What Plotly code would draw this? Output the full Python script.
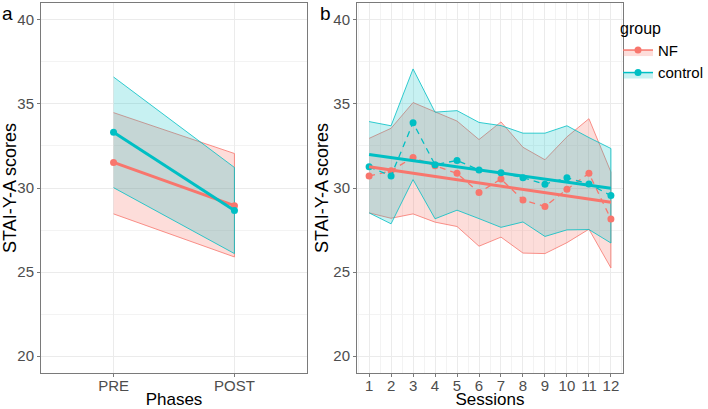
import plotly.graph_objects as go

# panel a: phases
phases = ["PRE", "POST"]
a_nf_mean = [31.52, 28.95]
a_nf_lo = [28.46, 25.90]
a_nf_hi = [34.48, 32.05]
a_ctrl_mean = [33.31, 28.66]
a_ctrl_lo = [30.02, 26.10]
a_ctrl_hi = [36.60, 31.22]

# panel b: sessions
sessions = [1, 2, 3, 4, 5, 6, 7, 8, 9, 10, 11, 12]
nf_mean = [30.71, 31.02, 31.82, 31.32, 30.87, 29.73, 30.53, 29.29, 28.90, 29.92, 30.87, 28.15]
nf_hi = [32.95, 33.55, 35.08, 34.51, 33.98, 32.88, 33.93, 32.42, 31.68, 33.04, 34.12, 30.95]
nf_lo = [28.52, 28.20, 28.46, 27.97, 27.71, 26.54, 27.08, 26.13, 26.10, 26.75, 27.55, 25.25]
ctrl_mean = [31.26, 30.72, 33.88, 31.38, 31.64, 31.07, 30.91, 30.61, 30.23, 30.61, 30.24, 29.55]
ctrl_hi = [33.95, 33.70, 37.08, 34.51, 34.60, 33.90, 33.71, 33.26, 33.26, 33.70, 33.00, 32.35]
ctrl_lo = [28.52, 27.87, 30.50, 28.17, 28.68, 28.18, 27.66, 27.98, 27.12, 27.51, 27.53, 26.73]

# linear trend lines (read at sessions 1 and 12)
fit_x = [1, 12]
nf_fit = [31.26, 29.15]
ctrl_fit = [31.99, 29.98]

groups = ["NF", "control"]
colors = {"NF": "#F8766D", "control": "#00BFC4"}
fills = {"NF": "rgba(248,118,109,0.25)", "control": "rgba(0,191,196,0.22)"}

FONT = "Liberation Sans, Arial, sans-serif"

fig = go.Figure()


def ribbon(x, lo, hi, g, xa, ya):
    fig.add_trace(go.Scatter(
        x=list(x) + list(x)[::-1], y=list(hi) + list(lo)[::-1],
        fill="toself", fillcolor=fills[g], mode="lines",
        line=dict(color=colors[g], width=0.8),
        xaxis=xa, yaxis=ya, showlegend=False, hoverinfo="skip"))


# panel a
ribbon(phases, a_nf_lo, a_nf_hi, "NF", "x", "y")
ribbon(phases, a_ctrl_lo, a_ctrl_hi, "control", "x", "y")
for g, m in [("NF", a_nf_mean), ("control", a_ctrl_mean)]:
    fig.add_trace(go.Scatter(
        x=phases, y=m, mode="lines+markers",
        line=dict(color=colors[g], width=3),
        marker=dict(color=colors[g], size=7),
        xaxis="x", yaxis="y", showlegend=False, name=g))

# panel b
ribbon(sessions, nf_lo, nf_hi, "NF", "x2", "y2")
ribbon(sessions, ctrl_lo, ctrl_hi, "control", "x2", "y2")
for g, m in [("NF", nf_mean), ("control", ctrl_mean)]:
    fig.add_trace(go.Scatter(
        x=sessions, y=m, mode="lines+markers",
        line=dict(color=colors[g], width=1.3, dash="6px,5px"),
        marker=dict(color=colors[g], size=7),
        xaxis="x2", yaxis="y2", showlegend=False, name=g))
for g, f in [("NF", nf_fit), ("control", ctrl_fit)]:
    fig.add_trace(go.Scatter(
        x=fit_x, y=f, mode="lines",
        line=dict(color=colors[g], width=3),
        xaxis="x2", yaxis="y2", showlegend=False, name=g))

# legend keys
for g in groups:
    fig.add_trace(go.Scatter(
        x=[None], y=[None], name=g, fill="toself", fillcolor=fills[g],
        mode="lines+markers", line=dict(color=colors[g], width=1.5),
        marker=dict(color=colors[g], size=7), xaxis="x2", yaxis="y2"))

axis_common = dict(
    showline=True, linecolor="#7a7a7a", linewidth=1, mirror=True,
    ticks="outside", ticklen=3, tickcolor="#7a7a7a",
    gridcolor="#EBEBEB", gridwidth=1, zeroline=False, automargin=False,
    tickfont=dict(family=FONT, size=15, color="#4D4D4D"),
)
title_font = dict(family=FONT, size=18, color="black")
xtitle_font = dict(family=FONT, size=17, color="black")
y_minor = dict(tickvals=[22.5, 27.5, 32.5, 37.5], showgrid=True,
               gridcolor="#F3F3F3", gridwidth=0.6, ticks="")

# plot area spans x 41..623, y 3..373 in pixels
fig.update_layout(
    width=708, height=409,
    margin=dict(l=41, r=85, t=3, b=36, autoexpand=False),
    paper_bgcolor="white", plot_bgcolor="white",
    font=dict(family=FONT),
    xaxis=dict(axis_common, domain=[0, 266 / 582], type="category",
               range=[-0.6, 1.6], ticklabelstandoff=-4,
               title=dict(text="Phases", font=xtitle_font, standoff=4)),
    yaxis=dict(axis_common, domain=[0, 1], range=[19, 41],
               tickvals=[20, 25, 30, 35, 40], minor=y_minor,
               title=dict(text="STAI-Y-A scores", font=title_font, standoff=0)),
    xaxis2=dict(axis_common, domain=[316 / 582, 1], range=[0.45, 12.55],
                tickvals=sessions, anchor="y2", ticklabelstandoff=-4,
                minor=dict(dtick=0.5, tick0=0.5, showgrid=True,
                           gridcolor="#F3F3F3", gridwidth=0.6, ticks=""),
                title=dict(text="Sessions", font=xtitle_font, standoff=4)),
    yaxis2=dict(axis_common, domain=[0, 1], range=[19, 41],
                tickvals=[20, 25, 30, 35, 40], anchor="x2", minor=y_minor,
                title=dict(text="STAI-Y-A scores", font=title_font, standoff=0)),
    legend=dict(
        x=-5 / 582 + 1.0, y=1 - 10 / 370, xanchor="left", yanchor="top",
        title=dict(text="group", font=dict(family=FONT, size=16, color="black")),
        font=dict(family=FONT, size=15, color="black"),
        itemwidth=30, tracegroupgap=0, bgcolor="rgba(0,0,0,0)"),
    annotations=[
        dict(text="a", x=-41 / 582, y=1 + 2 / 370, xref="paper", yref="paper",
             xanchor="left", yanchor="top", showarrow=False,
             font=dict(family=FONT, size=19, color="black")),
        dict(text="b", x=277 / 582, y=1 + 2 / 370, xref="paper", yref="paper",
             xanchor="left", yanchor="top", showarrow=False,
             font=dict(family=FONT, size=19, color="black")),
    ],
)

# drop the page's default body margin so the figure sits at the top-left corner
fig.write_html("out.html", config={"displayModeBar": False},
               post_script="document.body.style.margin = '0';")
